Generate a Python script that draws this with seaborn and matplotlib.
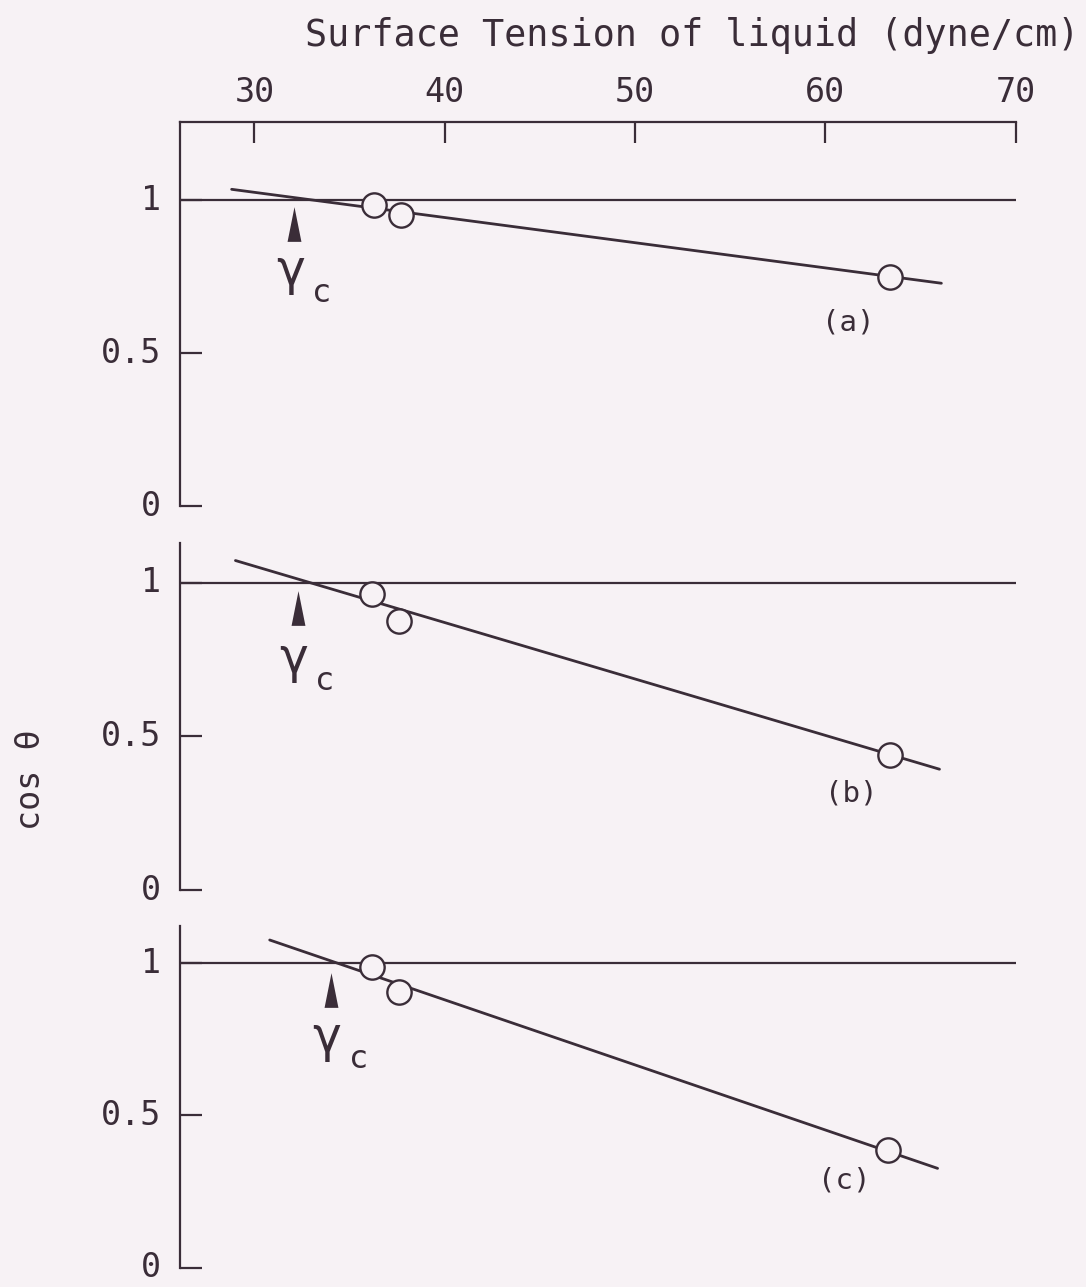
import numpy as np
import pandas as pd
import matplotlib
matplotlib.use("Agg")
import matplotlib.pyplot as plt
import seaborn as sns
from matplotlib.path import Path

# ---------------- data ----------------
x_ticks = [30, 40, 50, 60, 70]
y_ticks = [0, 0.5, 1]
y_tick_labels = ["0", "0.5", "1"]
panel_labels = ["(a)", "(b)", "(c)"]

# measured contact angle points (surface tension, cos theta)
a_x = [36.3, 37.7, 63.4]
a_y = [0.984, 0.951, 0.747]
b_x = [36.2, 37.6, 63.4]
b_y = [0.964, 0.874, 0.440]
c_x = [36.2, 37.6, 63.3]
c_y = [0.987, 0.907, 0.386]

# Zisman fit lines (end points)
a_fit_x = [28.8, 66.1]
a_fit_y = [1.035, 0.728]
b_fit_x = [29.0, 66.0]
b_fit_y = [1.072, 0.393]
c_fit_x = [30.8, 65.9]
c_fit_y = [1.077, 0.326]

# critical surface tension arrows
gamma_c_x = [32.1, 32.3, 34.0]
gamma_c_arrow_y = [0.921, 0.917, 0.913]
gamma_c_text_x = [31.15, 31.3, 33.05]
gamma_c_text_y = [0.722, 0.706, 0.710]

# panel label positions
label_x = [61.2, 61.35, 61.0]
label_y = [0.600, 0.315, 0.287]

# ---------------- styling ----------------
sns.set_style("white")
INK = "#3a2d38"
BG = "#f7f2f5"
MONO = ["DejaVu Sans Mono", "DejaVu Sans"]
plt.rcParams["font.family"] = MONO
plt.rcParams["text.color"] = INK
plt.rcParams["axes.labelcolor"] = INK
plt.rcParams["xtick.color"] = INK
plt.rcParams["ytick.color"] = INK

W, H = 1086, 1287
fig = plt.figure(figsize=(W / 100, H / 100), dpi=100)
fig.patch.set_facecolor(BG)

left = 179.5 / W
width = (1015.6 - 179.5) / W
# (bottom_px, top_px, ytop)
geom = [(506, 122, 1.255), (890, 542.7, 1.130), (1267.5, 926, 1.123)]

pts = [(a_x, a_y), (b_x, b_y), (c_x, c_y)]
fits = [(a_fit_x, a_fit_y), (b_fit_x, b_fit_y), (c_fit_x, c_fit_y)]

arrow_marker = Path([(-0.2, -0.5), (0.2, -0.5), (0.0, 0.5), (-0.2, -0.5)],
                    [Path.MOVETO, Path.LINETO, Path.LINETO, Path.CLOSEPOLY])

for i in range(3):
    bpx, tpx, ytop = geom[i]
    ax = fig.add_axes([left, (H - bpx) / H, width, (bpx - tpx) / H])
    ax.set_facecolor("none")
    ax.set_xlim(26.06, 70.0)
    ax.set_ylim(0, ytop)

    # y = 1 reference line
    ax.axhline(1.0, color=INK, lw=1.6, zorder=1)

    fx, fy = fits[i]
    sns.lineplot(x=fx, y=fy, ax=ax, color=INK, lw=2.0, zorder=2)

    px, py = pts[i]
    df = pd.DataFrame({"st": px, "cos": py})
    sns.scatterplot(data=df, x="st", y="cos", ax=ax, marker="o", s=17.5 ** 2,
                    facecolor=BG, edgecolor=INK, linewidth=1.7, zorder=3)

    # gamma_c arrow
    ax.plot([gamma_c_x[i]], [gamma_c_arrow_y[i]], marker=arrow_marker,
            markersize=25, color=INK, markeredgewidth=0, linestyle="none", zorder=4)
    ax.text(gamma_c_text_x[i], gamma_c_text_y[i], "γ", fontsize=35,
            family=["DejaVu Sans"], ha="left", va="baseline", color=INK)
    ax.annotate("c", xy=(gamma_c_text_x[i], gamma_c_text_y[i]),
                xytext=(26, -12), textcoords="offset points",
                fontsize=23, family=MONO, ha="left", va="baseline", color=INK)

    ax.text(label_x[i], label_y[i], panel_labels[i], fontsize=21,
            ha="center", va="center", color=INK)

    # axes cosmetics
    ax.set_xlabel("")
    ax.set_ylabel("")
    for s in ["right", "bottom"]:
        ax.spines[s].set_visible(False)
    ax.spines["left"].set_color(INK)
    ax.spines["left"].set_linewidth(1.6)
    ax.set_yticks(y_ticks)
    ax.set_yticklabels(y_tick_labels)
    ax.tick_params(axis="y", direction="in", length=16, width=1.6,
                   labelsize=24, pad=13, left=True)
    for lab in ax.get_yticklabels():
        lab.set_verticalalignment("center")
    if i == 0:
        ax.spines["top"].set_visible(True)
        ax.spines["top"].set_color(INK)
        ax.spines["top"].set_linewidth(1.6)
        ax.set_xticks(x_ticks)
        ax.set_xticklabels([str(t) for t in x_ticks])
        ax.xaxis.tick_top()
        ax.tick_params(axis="x", direction="in", length=15, width=1.6,
                       labelsize=24, pad=9, top=True, bottom=False)
    else:
        ax.spines["top"].set_visible(False)
        ax.set_xticks([])

fig.text(1079 / W, 1 - 36 / H, "Surface Tension of liquid (dyne/cm)",
         fontsize=26.5, ha="right", va="center", color=INK)
fig.text(30 / W, 1 - 780 / H, "cos θ", fontsize=24, rotation=90,
         ha="center", va="center", color=INK)

fig.savefig("out.png", dpi=100, facecolor=BG)
